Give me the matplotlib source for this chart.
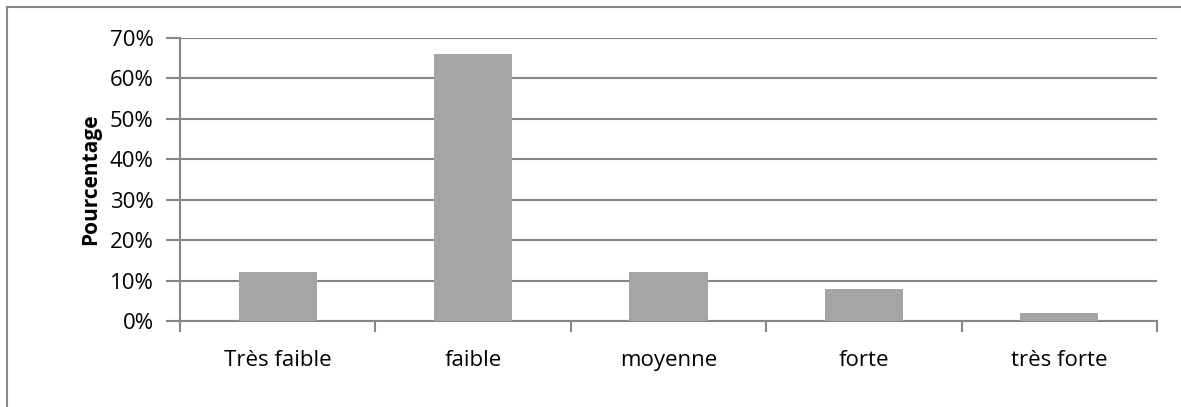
import matplotlib.pyplot as plt
from matplotlib.patches import Rectangle
from matplotlib.ticker import PercentFormatter, FixedLocator

categories = ['Très faible', 'faible', 'moyenne', 'forte', 'très forte']
pourcentages = [12, 66, 12, 8, 2]
yticks = [0, 10, 20, 30, 40, 50, 60, 70]

plt.rcParams['font.family'] = ['Open Sans', 'DejaVu Sans']

fig = plt.figure(figsize=(11.81, 4.07), dpi=100)
ax = fig.add_axes([180 / 1181, 1 - 321 / 407, 977 / 1181, 283 / 407])

grey = '#868686'
x = range(len(categories))
ax.bar(x, pourcentages, width=0.4, color='#A5A5A5', zorder=3)

ax.set_xlim(-0.5, len(categories) - 0.5)
ax.set_ylim(0, 70)
ax.set_yticks(yticks)
ax.yaxis.set_major_formatter(PercentFormatter(decimals=0))
ax.set_xticks(list(x))
ax.set_xticklabels(categories)
ax.xaxis.set_minor_locator(FixedLocator([i - 0.5 for i in range(len(categories) + 1)]))

ax.grid(axis='y', color=grey, linewidth=1.5, zorder=0)
for side in ['top', 'right']:
    ax.spines[side].set_visible(False)
for side in ['left', 'bottom']:
    ax.spines[side].set_color(grey)
    ax.spines[side].set_linewidth(1.5)

ax.tick_params(axis='y', length=10, width=1.5, color=grey, labelsize=16, pad=9)
ax.tick_params(axis='x', which='major', length=0, labelsize=16, pad=21)
ax.tick_params(axis='x', which='minor', length=8, width=1.5, color=grey)

ax.set_ylabel('Pourcentage', fontsize=15, fontweight='bold', labelpad=6)

# cadre du graphique
fig.patches.append(Rectangle((7 / 1181, -0.1), 1.2, 1 - 7 / 407 + 0.1,
                             transform=fig.transFigure, fill=False,
                             edgecolor=grey, linewidth=1.5))

fig.savefig('out.png', dpi=100)
